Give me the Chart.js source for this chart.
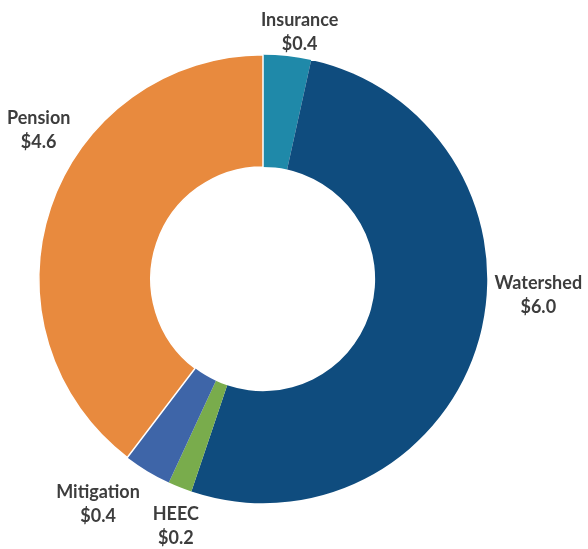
<!DOCTYPE html>
<html>
<head>
<meta charset="utf-8">
<script src="https://cdn.jsdelivr.net/npm/chart.js@4/dist/chart.umd.min.js"></script>
<style>
  html, body { margin: 0; padding: 0; background: #fff; }
  #wrap { width: 588px; height: 549px; position: relative; }
</style>
</head>
<body>
<div id="wrap"><canvas id="chart"></canvas></div>
<script>
const categories = ["Insurance", "Watershed", "HEEC", "Mitigation", "Pension"];
const amounts = [0.4, 6.0, 0.2, 0.4, 4.6];
const valueLabels = ["$0.4", "$6.0", "$0.2", "$0.4", "$4.6"];

const sliceColors = ["#1f89a9", "#0f4c7e", "#79ac4c", "#3e65a8", "#e88a3e"];
// nudge of each label block from its default spot outside the arc
const labelNudge = [[10, -2], [38, -50], [4, 18], [-38, 14], [9, -70]];

const outsideLabels = {
  id: "outsideLabels",
  afterDatasetsDraw(chart) {
    const { ctx } = chart;
    const meta = chart.getDatasetMeta(0);
    meta.data.forEach((arc, i) => {
      const p = arc.getProps(["x", "y", "startAngle", "endAngle", "outerRadius"], true);
      const mid = (p.startAngle + p.endAngle) / 2;
      const r = p.outerRadius + 22;
      const x = p.x + Math.cos(mid) * r + labelNudge[i][0];
      const y = p.y + Math.sin(mid) * r + labelNudge[i][1];
      ctx.save();
      ctx.font = "bold 18px Lato, 'Liberation Sans', sans-serif";
      ctx.fillStyle = "#3d3d3d";
      ctx.textAlign = "center";
      ctx.textBaseline = "middle";
      ctx.fillText(categories[i], x, y - 12);
      ctx.fillText(valueLabels[i], x, y + 12);
      ctx.restore();
    });
  }
};

new Chart(document.getElementById("chart"), {
  type: "doughnut",
  data: {
    labels: categories,
    datasets: [{
      data: amounts,
      backgroundColor: sliceColors,
      borderColor: "#ffffff",
      borderWidth: [0, 0, 0, 0, 1.5]
    }]
  },
  options: {
    responsive: true,
    maintainAspectRatio: false,
    animation: false,
    cutout: "50%",
    layout: {
      padding: { top: 50, bottom: 41, left: 38, right: 100 }
    },
    plugins: {
      legend: { display: false },
      tooltip: { enabled: false }
    }
  },
  plugins: [outsideLabels]
});
</script>
</body>
</html>
